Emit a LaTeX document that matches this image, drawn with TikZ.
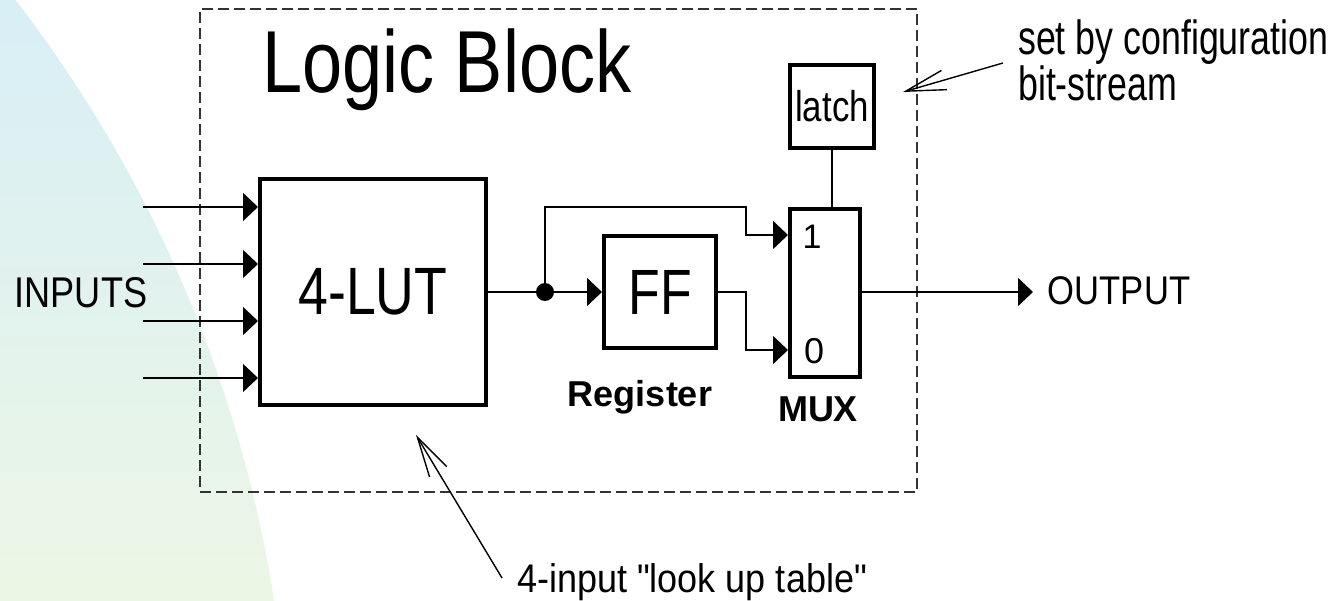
\documentclass[tikz,border=0pt]{standalone}
\usepackage{fontspec}
\setmainfont{Liberation Sans}
\usepackage{graphicx}
\usetikzlibrary{arrows.meta}
% horizontally condensed text and pixel-like font sizes
\newcommand{\cnd}[2]{\scalebox{#1}[1]{#2}}
\newcommand{\fsz}[1]{\fontsize{#1}{#1}\selectfont}
\definecolor{bgtop}{RGB}{216,239,246}
\definecolor{bgbot}{RGB}{236,246,229}
\definecolor{framegray}{RGB}{51,51,51}
\tikzset{
  wire/.style={line width=1.4pt},
  sig/.style={wire, -{Triangle[length=15pt,width=28pt]}},
  blk/.style={draw, line width=4pt, fill=white, inner sep=0pt},
  note/.style={line width=1.4pt, -{Straight Barb[length=40pt,width=20pt,line width=1.4pt]}},
  txt/.style={inner sep=0pt, anchor=base},
  blockframe/.style={draw=framegray, line width=1.5pt, dash pattern=on 11pt off 5pt, inner sep=0pt},
  junction/.style={circle, fill=black, inner sep=0pt, minimum size=18pt},
}
\begin{document}
\begin{tikzpicture}[x=1pt,y=-1pt]
\useasboundingbox (0,0) rectangle (1337,601);
\fill[white] (0,0) rectangle (1337,601);
% soft background arc on the left
\begin{scope}
  \clip (-1030,806) circle[radius=1320pt];
  \shade[top color=bgtop, bottom color=bgbot] (0,0) rectangle (1337,601);
\end{scope}

% logic block frame and title
\node[blockframe, minimum width=717pt, minimum height=483pt] (lb) at (558.5,250.5) {};
\node[txt, font=\fsz{88}] (title) at (447,93) {\cnd{0.82}{Logic Block}};

% functional blocks
\node[blk, minimum width=226pt, minimum height=226pt, font=\fsz{67}] (lut) at (373,292) {\cnd{0.80}{4-LUT}};
\node[blk, minimum width=112pt, minimum height=112pt, font=\fsz{64}] (ff) at (660,292) {\cnd{0.81}{FF}};
\node[blk, minimum width=70pt, minimum height=168pt] (mux) at (825,293) {};
\node[blk, minimum width=84pt, minimum height=83pt, font=\fsz{43}] (latch) at (832,106.5) {\cnd{0.81}{latch}};

% labels
\node[txt, font=\fsz{34}] (one) at (812,249) {1};
\node[txt, font=\fsz{36}] (zero) at (814,363) {0};
\node[txt, font=\bfseries\fsz{36}] (reg) at (640,406) {Register};
\node[txt, font=\bfseries\fsz{36}] (muxlbl) at (818,421) {MUX};
\node[txt, font=\fsz{43}] (inlbl) at (81,307) {\cnd{0.84}{INPUTS}};
\node[txt, font=\fsz{40}] (outlbl) at (1119,305) {\cnd{0.865}{OUTPUT}};
\node[inner sep=0pt, anchor=north west, align=left, font=\fontsize{48}{42}\selectfont] (cfg)
  at (1018,20) {\cnd{0.745}{set by configuration}\\\cnd{0.745}{bit-stream}};
\node[txt, font=\fsz{40}] (lutnote) at (692,592) {\cnd{0.9}{4-input \textquotedbl look up table\textquotedbl}};

% inputs
\foreach \yy [count=\i] in {207,264,321,378} {
  \coordinate (in\i) at (143,\yy);
  \draw[sig] (in\i) -- (in\i -| lut.west);
}

% data path
\node[junction] (dot) at (545,292) {};
\draw[wire] (lut.east) -- (dot);
\draw[sig] (dot) -- (ff.west);
\draw[sig] (dot) -- (dot |- 0,207) -- (746,207) -- (746,235) -- (mux.west |- 0,235);
\draw[sig] (ff.east) -- (746,292) -- (746,350) -- (mux.west |- 0,350);
\draw[wire] (latch.south) -- (latch.south |- mux.north);
\coordinate (otip) at (1033,292);
\draw[sig] (mux.east |- otip) -- (otip);

% annotation pointers
\coordinate (cfgtail) at (1003,63);
\coordinate (cfgtip) at (903,92);
\draw[note] (cfgtail) -- (cfgtip);
\coordinate (luttail) at (502,578);
\coordinate (luttip) at (416,435);
\draw[note] (luttail) -- (luttip);
\end{tikzpicture}
\end{document}
